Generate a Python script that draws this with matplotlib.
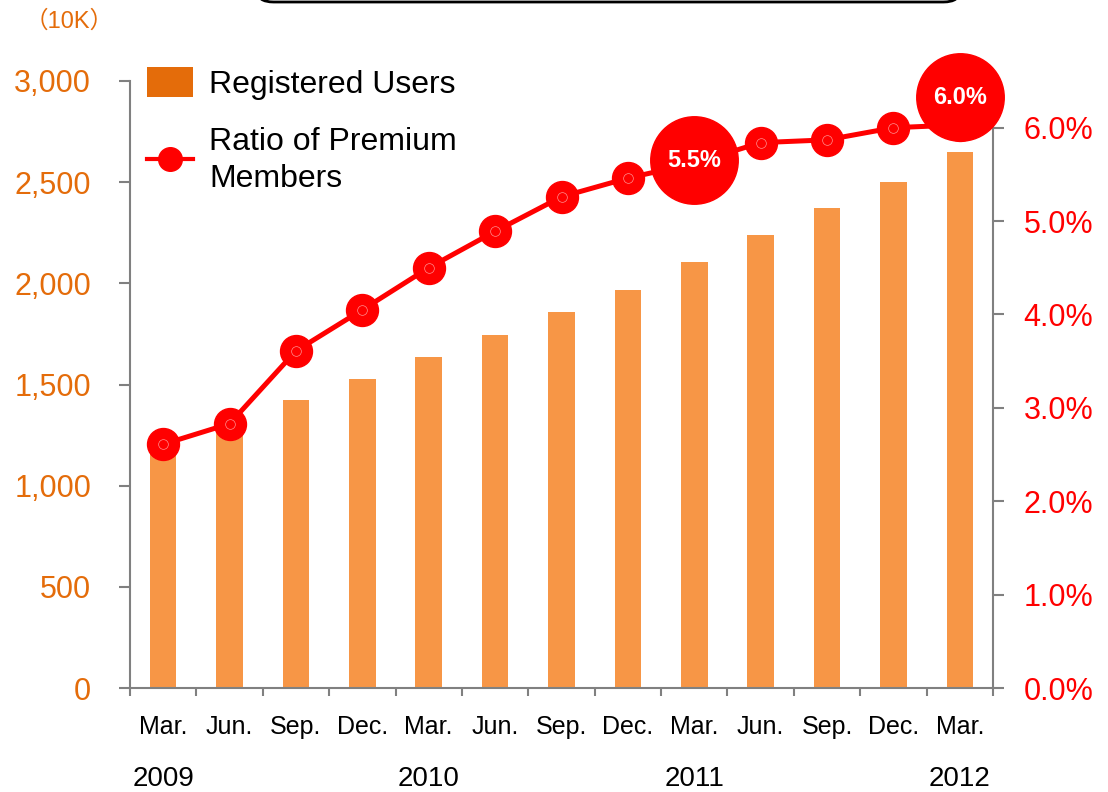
import numpy as np
import matplotlib
matplotlib.use("Agg")
import matplotlib.pyplot as plt
import matplotlib.transforms as mtransforms
from matplotlib.patches import Patch, FancyBboxPatch
from matplotlib.lines import Line2D
from matplotlib.ticker import FuncFormatter

plt.rcParams['font.family'] = ['Liberation Sans', 'Noto Sans CJK JP', 'DejaVu Sans']

# data
months = ['Mar.', 'Jun.', 'Sep.', 'Dec.', 'Mar.', 'Jun.', 'Sep.', 'Dec.',
          'Mar.', 'Jun.', 'Sep.', 'Dec.', 'Mar.']
years = ['2009', '2010', '2011', '2012']
year_pos = [0, 4, 8, 12]
users = [1170, 1270, 1425, 1527, 1636, 1745, 1859, 1967, 2106, 2239, 2373, 2501, 2650]
ratio = [2.61, 2.83, 3.61, 4.05, 4.50, 4.89, 5.26, 5.46, 5.62, 5.84, 5.87, 6.00, 6.03]
callouts = {8: '5.5%', 12: '6.0%'}

ORANGE = '#E46C0A'
BAR = '#F79646'
RED = '#FF0000'
GRAY = '#808080'

fig = plt.figure(figsize=(11.08, 7.92), dpi=100)
ax = fig.add_axes([130/1108, 1-688/792, (993-130)/1108, (688-81)/792])
x = np.arange(len(users))

ax.bar(x, users, width=0.4, color=BAR, zorder=2)
ax.set_xlim(-0.5, len(users)-0.5)
ax.set_ylim(0, 3000)
ax.set_yticks(np.arange(0, 3001, 500))
ax.yaxis.set_major_formatter(FuncFormatter(lambda v, p: f'{int(v):,}'))
ax.tick_params(axis='y', colors=GRAY, labelcolor=ORANGE, labelsize=22,
               length=8, width=1.5, pad=20)

# category boundary ticks and centered labels
ax.set_xticks(np.arange(-0.5, len(users), 1.0))
ax.set_xticklabels([])
ax.tick_params(axis='x', colors=GRAY, length=6, width=1.5)
for s in ['top', 'right']:
    ax.spines[s].set_visible(False)
for s in ['left', 'bottom']:
    ax.spines[s].set_color(GRAY)
    ax.spines[s].set_linewidth(1.5)

trans = mtransforms.blended_transform_factory(ax.transData, ax.transAxes)
for i, m in enumerate(months):
    ax.text(i, -39/607, m, transform=trans, ha='center', va='center', fontsize=18)
for p, yr in zip(year_pos, years):
    ax.text(p, -91/607, yr, transform=trans, ha='center', va='center', fontsize=20)

ax.text(-1.42, 3000 + 292, '（10K）', ha='center', va='center', fontsize=17,
        color=ORANGE, clip_on=False)

ax2 = ax.twinx()
ax2.set_ylim(0, 6.5)
ax2.set_yticks(np.arange(0, 6.1, 1.0))
ax2.yaxis.set_major_formatter(FuncFormatter(lambda v, p: f'{v:.1f}%'))
ax2.tick_params(axis='y', colors=GRAY, labelcolor=RED, labelsize=22,
                length=8, width=1.5, pad=14)
for s in ['top', 'left', 'bottom']:
    ax2.spines[s].set_visible(False)
ax2.spines['right'].set_color(GRAY)
ax2.spines['right'].set_linewidth(1.5)

ax2.plot(x, ratio, color=RED, lw=3.6, marker='o', ms=23, zorder=3, clip_on=False)
ax2.plot(x, ratio, ls='none', marker='o', ms=7, mfc='none', mec='#ff9090',
         mew=0.5, zorder=4, clip_on=False)

for i, lab in callouts.items():
    dy = 2 if i != 12 else 20
    tr = mtransforms.offset_copy(ax2.transData, fig=fig, x=0, y=dy, units='points')
    ax2.plot(x[i], ratio[i], 'o', ms=63, color=RED, transform=tr, zorder=5, clip_on=False)
    ax2.text(x[i], ratio[i], lab, transform=tr, ha='center', va='center',
             color='white', fontsize=17, fontweight='bold', zorder=6)

handles = [Patch(facecolor=ORANGE, edgecolor='none'),
           Line2D([0], [0], color=RED, lw=3, marker='o', ms=17)]
leg = ax.legend(handles, ['Registered Users', 'Ratio of Premium\nMembers'],
                loc='upper left', bbox_to_anchor=(134/1108, 1-54/792),
                bbox_transform=fig.transFigure, frameon=False, fontsize=23,
                handlelength=1.45, handleheight=1.1, handletextpad=0.5,
                labelspacing=0.85, borderaxespad=0)
for t in leg.get_texts():
    t.set_linespacing(1.3)
leg.set_zorder(10)

# rounded box cut off at top of figure
box = FancyBboxPatch((257/1108, 1-2/792), (960-257)/1108, 0.1,
                     boxstyle='round,pad=0,rounding_size=0.015',
                     transform=fig.transFigure, facecolor='white',
                     edgecolor='black', lw=2)
fig.patches.append(box)

fig.savefig('out.png', dpi=100)
